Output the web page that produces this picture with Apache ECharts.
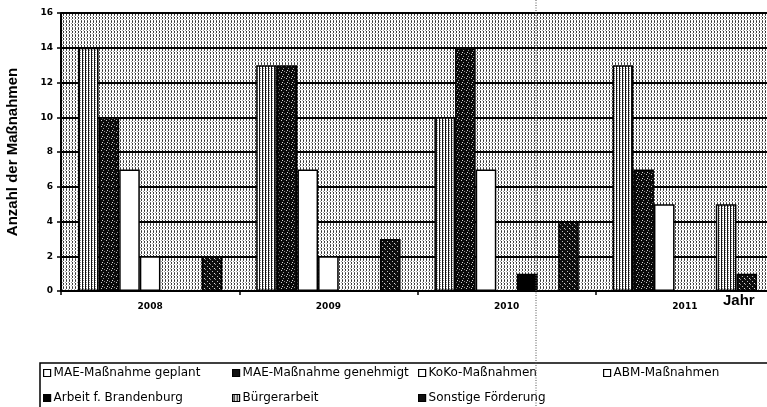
<!DOCTYPE html>
<html>
<head>
<meta charset="utf-8">
<script src="https://cdn.jsdelivr.net/npm/echarts@6/dist/echarts.min.js"></script>
<style>
html,body{margin:0;padding:0;background:#fff;}
#chart{width:767px;height:407px;}
</style>
</head>
<body>
<div id="chart"></div>
<script>
// ---- data ----
var years = ['2008', '2009', '2010', '2011'];
var seriesNames = ['MAE-Maßnahme geplant', 'MAE-Maßnahme genehmigt', 'KoKo-Maßnahmen', 'ABM-Maßnahmen',
                   'Arbeit f. Brandenburg', 'Bürgerarbeit', 'Sonstige Förderung'];
var maeGeplant    = [14, 13, 10, 13];
var maeGenehmigt  = [10, 13, 14, 7];
var kokoMass      = [7, 7, 7, 5];
var abmMass       = [2, 2, 0, 0];
var arbeitBrand   = [0, 0, 1, 0];
var buergerarbeit = [0, 0, 0, 5];
var sonstige      = [2, 3, 4, 1];
var yTicks = [0, 2, 4, 6, 8, 10, 12, 14, 16];

// ---- patterns ----
function makePattern(w, h, base, dots) {
  var c = document.createElement('canvas');
  c.width = w; c.height = h;
  var ctx = c.getContext('2d');
  ctx.fillStyle = base; ctx.fillRect(0, 0, w, h);
  dots.forEach(function (d) { ctx.fillStyle = d[2]; ctx.fillRect(d[0], d[1], 1, 1); });
  return { image: c, repeat: 'repeat' };
}
// vertical dotted streaks for the plot background
var bgPattern = makePattern(3, 7, '#ffffff', [
  [0,0,'#333'],[0,1,'#555'],[0,3,'#333'],[0,4,'#444'],[0,6,'#666'],
  [2,2,'#999'],[2,5,'#aaa']
]);
var stripePattern = makePattern(3, 2, '#ffffff', [
  [1,0,'#111'],[1,1,'#111'],[2,0,'#888']
]);
var darkPattern = makePattern(5, 6, '#0a0a0a', [
  [1,0,'#ccc'],[3,2,'#999'],[2,4,'#ddd'],[4,5,'#888']
]);
var darkPattern2 = makePattern(5, 5, '#0d0d0d', [
  [2,1,'#bbb'],[4,3,'#ddd'],[0,4,'#888']
]);

var fills = [stripePattern, darkPattern, '#ffffff', '#ffffff', '#000000', stripePattern, darkPattern2];
var legendIconFill = ['#ffffff', '#111111', '#ffffff', '#ffffff', '#000000', stripePattern, '#111111'];
var values = [maeGeplant, maeGenehmigt, kokoMass, abmMass, arbeitBrand, buergerarbeit, sonstige];

var series = seriesNames.map(function (n, i) {
  return {
    name: n, type: 'bar', data: values[i],
    barGap: '0%', barCategoryGap: '19%',
    itemStyle: { color: fills[i], borderColor: '#000', borderWidth: 1.5 },
    emphasis: { disabled: true }, animation: false
  };
});

// legend placement: one legend per item
var legendPos = [
  [43, 367], [232, 367], [418, 367], [603, 367],
  [43, 392], [232, 392], [418, 392]
];
var legends = seriesNames.map(function (n, i) {
  return {
    data: [n], left: legendPos[i][0], top: legendPos[i][1], padding: 0,
    itemWidth: 7, itemHeight: 7, itemGap: 0, icon: 'rect',
    itemStyle: { color: legendIconFill[i], borderColor: '#000', borderWidth: 1.2 },
    textStyle: { fontFamily: 'DejaVu Sans', fontSize: 12, color: '#000', padding: [0,0,0,-2] },
    selectedMode: false
  };
});

var chart = echarts.init(document.getElementById('chart'), null, { renderer: 'canvas' });
chart.setOption({
  animation: false,
  backgroundColor: '#fff',
  grid: { left: 61, width: 713, top: 13, height: 278, show: true, borderWidth: 0,
          backgroundColor: bgPattern, containLabel: false, outerBoundsMode: 'none' },
  legend: legends,
  xAxis: {
    type: 'category', data: years,
    axisLine: { lineStyle: { color: '#000', width: 2 } },
    axisTick: { show: true, length: 4, lineStyle: { color: '#000', width: 1.5 } },
    axisLabel: { margin: 11, fontFamily: 'DejaVu Sans', fontWeight: 'bold', fontSize: 9, color: '#000' }
  },
  yAxis: {
    type: 'value', min: yTicks[0], max: yTicks[yTicks.length - 1], interval: 2,
    name: 'Anzahl der Maßnahmen', nameLocation: 'middle', nameGap: 41,
    nameTextStyle: { fontFamily: 'Liberation Sans', fontWeight: 'bold', fontSize: 15, color: '#000' },
    axisLine: { show: true, lineStyle: { color: '#000', width: 2 } },
    axisTick: { show: true, length: 4, lineStyle: { color: '#000', width: 1.5 } },
    axisLabel: { margin: 8, fontFamily: 'DejaVu Sans', fontWeight: 'bold', fontSize: 9, color: '#000' },
    splitLine: { show: true, lineStyle: { color: '#000', width: 2 } }
  },
  series: series,
  graphic: [
    { type: 'text', left: 723, top: 293, z: 10,
      style: { text: 'Jahr', font: 'bold 15px "Liberation Sans"', fill: '#000' } },
    { type: 'rect', z: 5, shape: { x: 40, y: 363, width: 740, height: 60 },
      style: { fill: 'none', stroke: '#000', lineWidth: 1.5 } },
    { type: 'line', z: 20, shape: { x1: 536, y1: 0, x2: 536, y2: 407 },
      style: { stroke: '#555', lineWidth: 1, lineDash: [1, 1.5] } }
  ]
});
</script>
</body>
</html>
